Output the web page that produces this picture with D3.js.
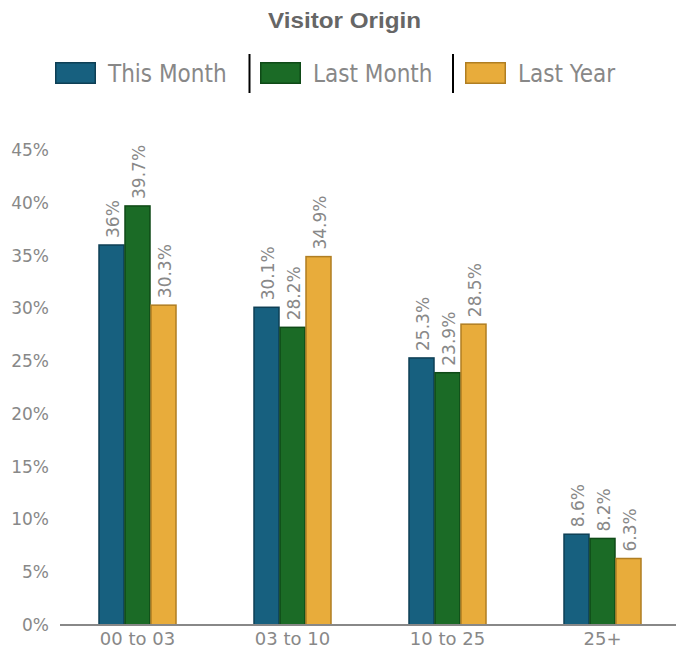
<!DOCTYPE html>
<html><head><meta charset="utf-8">
<script src="https://cdn.jsdelivr.net/npm/d3@7"></script>
<style>body{margin:0;background:#fff}svg{display:block}</style>
</head><body>
<svg id="c" width="676" height="651"></svg>
<script>
const categories = ["00 to 03", "03 to 10", "10 to 25", "25+"];
const seriesNames = ["This Month", "Last Month", "Last Year"];
const thisMonth = [36, 30.1, 25.3, 8.6];
const lastMonth = [39.7, 28.2, 23.9, 8.2];
const lastYear = [30.3, 34.9, 28.5, 6.3];
const yTicks = [0, 5, 10, 15, 20, 25, 30, 35, 40, 45];
const fills = ["#17607f", "#1b6b26", "#e8ac3b"];
const strokes = ["#0e3f55", "#0f4a17", "#b07e22"];

const series = [thisMonth, lastMonth, lastYear];
const svg = d3.select("#c");
const font = "'DejaVu Sans', sans-serif";

svg.append("text").attr("x", 268).attr("y", 28)
  .attr("font-family", "'Liberation Sans', Arial, sans-serif").attr("font-weight", "bold")
  .attr("font-size", 22).attr("fill", "#666")
  .attr("textLength", 153).attr("lengthAdjust", "spacingAndGlyphs").text("Visitor Origin");

const x = d3.scaleBand().domain(categories).range([60, 680]).paddingInner(0).paddingOuter(0);
const x1 = d3.scaleBand().domain(seriesNames).range([0, 78]);
const y = d3.scaleLinear().domain([0, 45]).range([625, 150]);

// y axis labels
svg.append("g").selectAll("text").data(yTicks).join("text")
  .attr("x", 49).attr("y", d => y(d)).attr("dy", "0.35em").attr("text-anchor", "end")
  .attr("font-family", font).attr("font-size", 17).attr("fill", "#888").text(d => d + "%");

// bars
const groups = svg.append("g").selectAll("g").data(categories).join("g")
  .attr("transform", c => `translate(${x(c) + (x.bandwidth() - 78) / 2},0)`);
groups.each(function(c, ci) {
  const g = d3.select(this);
  seriesNames.forEach((s, si) => {
    const v = series[si][ci];
    g.append("rect").attr("x", x1(s) + 0.5).attr("y", y(v)).attr("width", x1.bandwidth() - 1)
      .attr("height", y(0) - y(v)).attr("fill", fills[si]).attr("stroke", strokes[si]).attr("stroke-width", 1.5);
    const cx = x1(s) + x1.bandwidth() / 2;
    g.append("text").attr("transform", `translate(${cx + 2},${y(v) - 7}) rotate(-90)`)
      .attr("dy", "0.35em").attr("font-family", font).attr("font-size", 17).attr("fill", "#888")
      .text(v + "%");
  });
});

// x axis
svg.append("line").attr("x1", 60).attr("x2", 676).attr("y1", 625).attr("y2", 625)
  .attr("stroke", "#888").attr("stroke-width", 2);
svg.append("g").selectAll("text").data(categories).join("text")
  .attr("x", c => x(c) + x.bandwidth() / 2).attr("y", 645).attr("text-anchor", "middle")
  .attr("font-family", font).attr("font-size", 18).attr("fill", "#888").text(c => c);

// legend
const legX = [55, 260, 465];
const legend = svg.append("g");
seriesNames.forEach((s, i) => {
  legend.append("rect").attr("x", legX[i] + 0.75).attr("y", 62.75).attr("width", 39.5).attr("height", 20.5)
    .attr("fill", fills[i]).attr("stroke", strokes[i]).attr("stroke-width", 1.5);
  legend.append("text").attr("x", legX[i] + 53).attr("y", 82).attr("font-family", "'DejaVu Sans Condensed', 'DejaVu Sans', sans-serif")
    .attr("font-size", 24).attr("fill", "#888").text(s);
});
[249.5, 453].forEach(px => legend.append("line").attr("x1", px).attr("x2", px).attr("y1", 54).attr("y2", 93)
  .attr("stroke", "#000").attr("stroke-width", 2));
</script>
</body></html>
